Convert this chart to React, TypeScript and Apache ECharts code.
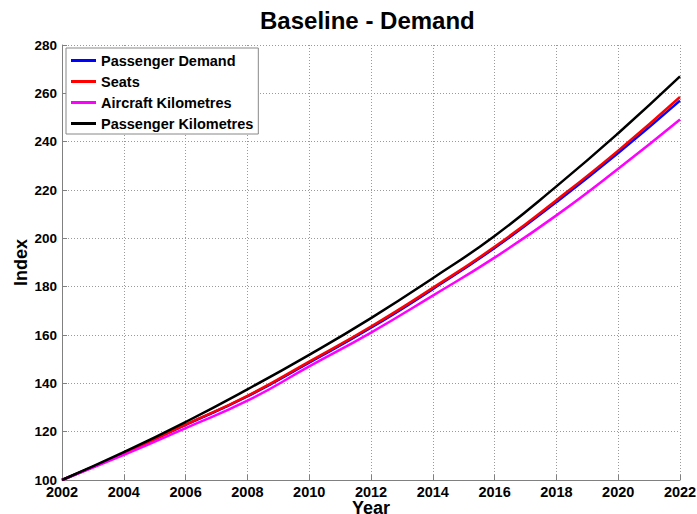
import React, { useEffect, useRef } from "react";
import * as echarts from "echarts";

const years = [2002, 2004, 2006, 2008, 2010, 2012, 2014, 2016, 2018, 2020, 2022];
const passengerDemand = [100, 111, 122.8, 134.6, 148.6, 163, 179, 196, 215, 235.3, 257];
const seats = [100, 111, 122.9, 134.8, 149, 163.5, 179.5, 196.5, 215.8, 236.3, 258.5];
const aircraftKm = [100, 110.4, 121.5, 132.8, 147, 161, 176.3, 192, 209.5, 228.8, 249.2];
const passengerKm = [100, 111.5, 124, 137.5, 151.8, 167, 183.5, 201, 221.5, 243.5, 267];

const seriesNames = ["Passenger Demand", "Seats", "Aircraft Kilometres", "Passenger Kilometres"];
const seriesColors = ["#0000ff", "#ff0000", "#ff00ff", "#000000"];
const seriesValues = [passengerDemand, seats, aircraftKm, passengerKm];

const FONT = "'Liberation Sans', Arial, Helvetica, sans-serif";

export default function App() {
  const ref = useRef<HTMLDivElement>(null);
  useEffect(() => {
    if (!ref.current) return;
    document.documentElement.style.overflow = "hidden";
    document.body.style.margin = "0";
    document.body.style.overflow = "hidden";
    const chart = echarts.init(ref.current, undefined, { renderer: "svg", width: 697, height: 514 });
    chart.setOption({
      animation: false,
      backgroundColor: "#ffffff",
      title: {
        text: "Baseline - Demand",
        left: 260,
        top: 8,
        padding: 0,
        textStyle: { fontFamily: FONT, fontSize: 24, fontWeight: "bold", color: "#000" },
      },
      legend: {
        orient: "vertical",
        left: 66,
        top: 48,
        padding: [5, 5, 3, 5],
        itemWidth: 25,
        itemHeight: 3,
        itemGap: 6,
        icon: "rect",
        backgroundColor: "#ffffff",
        borderColor: "#888888",
        borderWidth: 1,
        data: seriesNames.map((n) => ({ name: n, icon: "rect" })),
        textStyle: { fontFamily: FONT, fontSize: 14.5, fontWeight: "bold", color: "#000", lineHeight: 14 },
      },
      grid: { left: 62, right: 17, top: 45, bottom: 34, containLabel: false, outerBoundsMode: "none" },
      xAxis: {
        type: "value",
        min: 2002,
        max: 2022,
        interval: 2,
        name: "Year",
        nameLocation: "middle",
        nameGap: 19,
        nameMoveOverlap: false,
        nameTextStyle: { fontFamily: FONT, fontSize: 18, fontWeight: "bold", color: "#000", verticalAlign: "top" },
        axisLine: { show: true, onZero: false, lineStyle: { color: "#808080", width: 1 } },
        axisTick: { show: true, inside: true, length: 5, lineStyle: { color: "#808080" } },
        axisLabel: {
          fontFamily: FONT,
          fontSize: 14.5,
          fontWeight: "bold",
          color: "#000",
          margin: 4,
          formatter: (v: number) => String(v),
        },
        splitLine: { show: true, lineStyle: { color: "#9a9a9a", type: [1, 2], width: 1 } },
      },
      yAxis: {
        type: "value",
        min: 100,
        max: 280,
        interval: 20,
        name: "Index",
        nameLocation: "middle",
        nameGap: 32,
        nameMoveOverlap: false,
        nameTextStyle: { fontFamily: FONT, fontSize: 18, fontWeight: "bold", color: "#000" },
        axisLine: { show: true, lineStyle: { color: "#808080", width: 1 } },
        axisTick: { show: true, inside: true, length: 5, lineStyle: { color: "#808080" } },
        axisLabel: { fontFamily: FONT, fontSize: 13.5, fontWeight: "bold", color: "#000", margin: 5 },
        splitLine: { show: true, lineStyle: { color: "#9a9a9a", type: [1, 2], width: 1 } },
      },
      series: seriesNames.map((name, i) => ({
        name,
        type: "line",
        smooth: true,
        symbol: "none",
        showSymbol: false,
        color: seriesColors[i],
        lineStyle: { color: seriesColors[i], width: 2.5 },
        data: years.map((y, j) => [y, seriesValues[i][j]]),
      })),
    });
    return () => chart.dispose();
  }, []);
  return (
    <div
      ref={ref}
      style={{ position: "fixed", left: 0, top: 0, width: 697, height: 514, background: "#fff" }}
    />
  );
}
